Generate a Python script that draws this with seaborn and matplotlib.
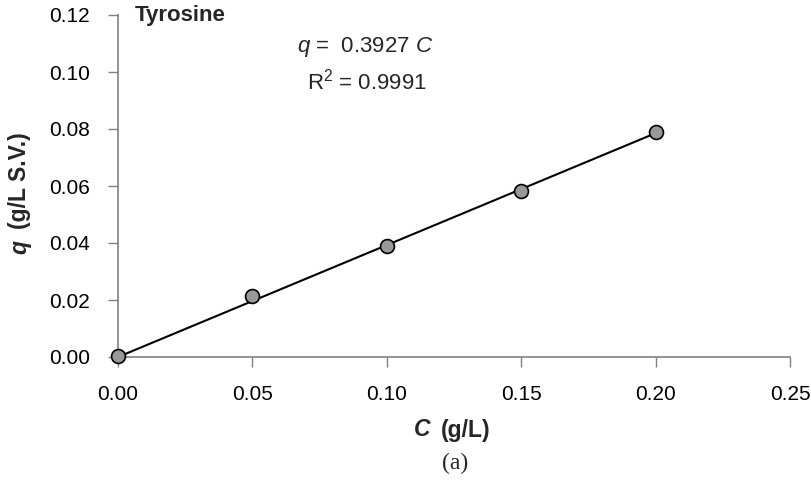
import matplotlib
matplotlib.use("Agg")
import matplotlib.pyplot as plt
import seaborn as sns
import numpy as np
import pandas as pd

# Data
conc = [0.00, 0.05, 0.10, 0.15, 0.20]
q_vals = [0.0003, 0.0215, 0.0390, 0.0583, 0.0791]
slope = 0.3927
r2 = 0.9991
x_ticks = [0.00, 0.05, 0.10, 0.15, 0.20, 0.25]
y_ticks = [0.00, 0.02, 0.04, 0.06, 0.08, 0.10, 0.12]

sns.set_theme(style="white")
plt.rcParams['font.family'] = ['Liberation Sans', 'DejaVu Sans']
plt.rcParams['mathtext.fontset'] = 'custom'
plt.rcParams['mathtext.it'] = 'Liberation Sans:italic'
plt.rcParams['mathtext.rm'] = 'Liberation Sans'

FS = 15
LFS = 16.5

df = pd.DataFrame({"C": conc, "q": q_vals})
fit = pd.DataFrame({"C": [conc[0], conc[-1]], "q": [slope * conc[0], slope * conc[-1]]})

fig = plt.figure(figsize=(8.11, 4.80), dpi=100)
ax = fig.add_axes([118/811, 1 - 357/480, (790-118)/811, (357-15)/480])

sns.lineplot(data=fit, x="C", y="q", ax=ax, color="black", linewidth=1.5, zorder=2)
sns.scatterplot(data=df, x="C", y="q", ax=ax, s=100, color="#999999",
                edgecolor="black", linewidth=1.2, zorder=3, clip_on=False)

ax.set_xlim(0, 0.25)
ax.set_ylim(0, 0.12)
ax.set_xticks(x_ticks)
ax.set_yticks(y_ticks)
ax.set_xticklabels([f"{v:.2f}" for v in x_ticks], fontsize=FS)
ax.set_yticklabels([f"{v:.2f}" for v in y_ticks], fontsize=FS)
for s in ["top", "right"]:
    ax.spines[s].set_visible(False)
for s in ["left", "bottom"]:
    ax.spines[s].set_color("#808080")
    ax.spines[s].set_linewidth(1.2)
ax.tick_params(axis="both", which="major", direction="out", length=7, width=1.0,
               color="#808080", labelcolor="black", left=True, bottom=True)
ax.tick_params(axis="y", pad=13)
ax.tick_params(axis="x", pad=13)
ax.set_xlabel("")
ax.set_ylabel("")

# Axis labels as mixed-style text
fig.text(430/811, 1 - 430/480, "C", fontsize=LFS, fontweight="bold", style="italic",
         ha="right", va="center")
fig.text(441/811, 1 - 430/480, "(g/L)", fontsize=LFS, fontweight="bold",
         ha="left", va="center")
fig.text(20/811, 1 - 181/480, "(g/L S.V.)", fontsize=LFS, fontweight="bold",
         rotation=90, ha="center", va="center")
fig.text(20/811, 1 - 247/480, "q", fontsize=LFS, fontweight="bold", style="italic",
         rotation=90, ha="center", va="center")

fig.text(135/811, 1 - 15/480, "Tyrosine", fontsize=16, fontweight="bold",
         ha="left", va="center")
fig.text(365/811, 1 - 47/480, r"$\it{q}$ =  " + f"{slope:.4f} " + r"$\it{C}$",
         fontsize=16, ha="center", va="center")
fig.text(367/811, 1 - 82/480, r"R$^{2}$ = " + f"{r2:.4f}", fontsize=16,
         ha="center", va="center")
fig.text(455/811, 1 - 463/480, "(a)", fontsize=17, family="Liberation Serif",
         ha="center", va="center")

fig.savefig("out.png", dpi=100)
